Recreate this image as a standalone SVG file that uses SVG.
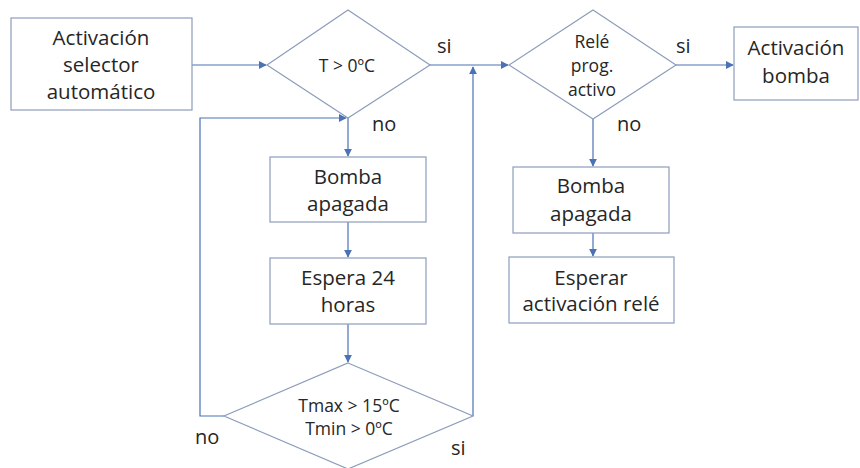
<svg xmlns="http://www.w3.org/2000/svg" width="860" height="468" viewBox="0 0 860 468">
<defs>
<style>
.shape{fill:#fff;stroke:#8c9dbb;stroke-width:1.2}
.con{fill:none;stroke:#4a72b5;stroke-width:1.2}
text{font-family:"Open Sans","Liberation Sans",sans-serif;fill:#262626;text-anchor:middle}
.big{font-size:20.5px}
.small{font-size:17.5px}
.lbl{font-size:20px;text-anchor:start}
</style>
<marker id="ah" viewBox="0 0 10 10" refX="9" refY="5" markerWidth="8" markerHeight="8" markerUnits="userSpaceOnUse" orient="auto">
<path d="M0,0 L10,5 L0,10 z" fill="#4a72b5"/>
</marker>
</defs>
<rect width="860" height="468" fill="#fff"/>
<g id="connectors">
<line class="con" x1="192" y1="65" x2="266" y2="65" marker-end="url(#ah)"/>
<line class="con" x1="430" y1="65" x2="508" y2="65" marker-end="url(#ah)"/>
<line class="con" x1="676" y1="65" x2="733" y2="65" marker-end="url(#ah)"/>
<line class="con" x1="348" y1="118" x2="348" y2="156" marker-end="url(#ah)"/>
<line class="con" x1="348" y1="222" x2="348" y2="257" marker-end="url(#ah)"/>
<line class="con" x1="348" y1="324" x2="348" y2="362" marker-end="url(#ah)"/>
<polyline class="con" points="224,416 200,416 200,118 346,118" marker-end="url(#ah)"/>
<polyline class="con" points="473,416 473,67" marker-end="url(#ah)"/>
<line class="con" x1="593" y1="119" x2="593" y2="166" marker-end="url(#ah)"/>
<line class="con" x1="593" y1="233" x2="593" y2="256" marker-end="url(#ah)"/>
</g>
<g id="n_activacion_selector">
<rect class="shape" x="11" y="18" width="181" height="92"/>
<text class="big" x="101" y="45">Activación</text>
<text class="big" x="101" y="72">selector</text>
<text class="big" x="101" y="99">automático</text>
</g>
<g id="n_t0">
<polygon class="shape" points="348,10 430,65 348,118 267,65"/>
<text class="small" x="347" y="72">T &gt; 0ºC</text>
</g>
<g id="n_bomba_apagada1">
<rect class="shape" x="270" y="157" width="156" height="65"/>
<text class="big" x="348" y="184">Bomba</text>
<text class="big" x="348" y="211">apagada</text>
</g>
<g id="n_espera">
<rect class="shape" x="270" y="258" width="156" height="66"/>
<text class="big" x="348" y="285">Espera 24</text>
<text class="big" x="348" y="312">horas</text>
</g>
<g id="n_tmax">
<polygon class="shape" points="348,363 473,416 348,469 224,416"/>
<text class="small" x="349" y="412">Tmax &gt; 15ºC</text>
<text class="small" x="349" y="435">Tmin &gt; 0ºC</text>
</g>
<g id="n_rele">
<polygon class="shape" points="593,10 676,65 593,119 509,65"/>
<text class="small" x="592" y="48">Relé</text>
<text class="small" x="592" y="72">prog.</text>
<text class="small" x="592" y="96">activo</text>
</g>
<g id="n_activacion_bomba">
<rect class="shape" x="734" y="27" width="124" height="73"/>
<text class="big" x="796" y="55">Activación</text>
<text class="big" x="796" y="83">bomba</text>
</g>
<g id="n_bomba_apagada2">
<rect class="shape" x="513" y="167" width="156" height="66"/>
<text class="big" x="591" y="193">Bomba</text>
<text class="big" x="591" y="221">apagada</text>
</g>
<g id="n_esperar">
<rect class="shape" x="509" y="257" width="165" height="66"/>
<text class="big" x="591" y="285">Esperar</text>
<text class="big" x="591" y="311">activación relé</text>
</g>
<g id="labels">
<text class="lbl" x="437" y="53">si</text>
<text class="lbl" x="676" y="53">si</text>
<text class="lbl" x="372" y="131">no</text>
<text class="lbl" x="617" y="131">no</text>
<text class="lbl" x="195" y="444">no</text>
<text class="lbl" x="451" y="455">si</text>
</g>
</svg>
